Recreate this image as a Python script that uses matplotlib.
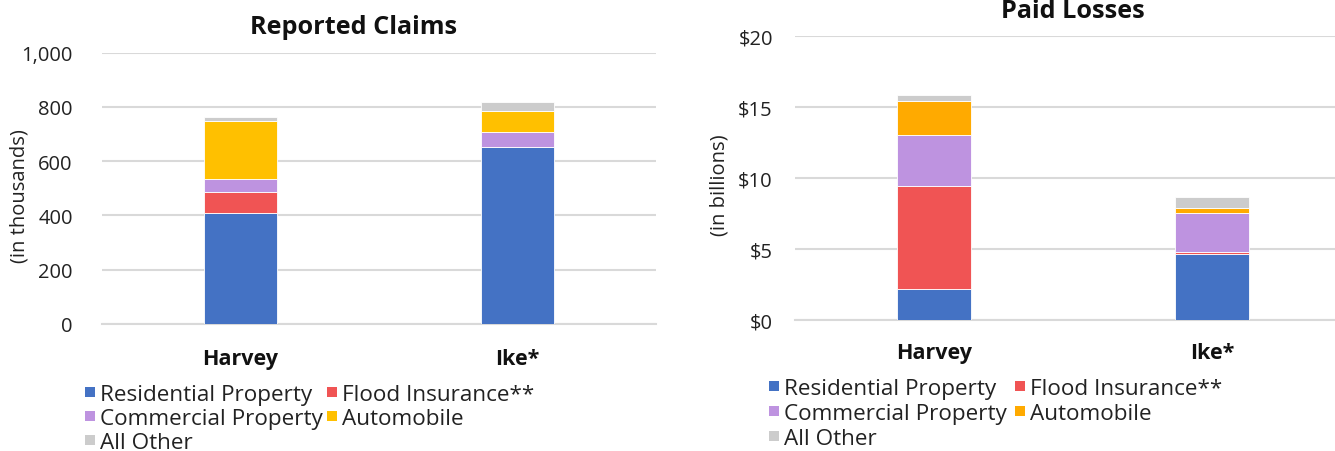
import matplotlib
matplotlib.use("Agg")
import matplotlib.pyplot as plt
from matplotlib.patches import Rectangle

plt.rcParams['font.family'] = ['Open Sans', 'DejaVu Sans']

events = ["Harvey", "Ike*"]
series = ["Residential Property", "Flood Insurance**", "Commercial Property", "Automobile", "All Other"]

claims_residential = [409, 653]
claims_flood = [77, 0]
claims_commercial = [47, 56]
claims_auto = [213, 74]
claims_other = [16, 33]

losses_residential = [2.17, 4.66]
losses_flood = [7.25, 0.12]
losses_commercial = [3.62, 2.75]
losses_auto = [2.36, 0.38]
losses_other = [0.49, 0.75]

left_colors = ["#4472C4", "#F05454", "#BE93E0", "#FFC000", "#CCCCCC"]
right_colors = ["#4472C4", "#F05454", "#BE93E0", "#FFAA00", "#CCCCCC"]

W, H = 1335, 452
fig = plt.figure(figsize=(W / 100, H / 100), dpi=100)

def px(x0, y0, x1, y1):
    return [x0 / W, 1 - y1 / H, (x1 - x0) / W, (y1 - y0) / H]

ax1 = fig.add_axes(px(102, 53.5, 656, 325))
ax2 = fig.add_axes(px(795, 37.3, 1351, 320.7))

def draw(ax, data, colors, ylim, ticks, ticklabels, ypad, xpad):
    bottoms = [0.0] * len(events)
    xs = list(range(len(events)))
    for vals, c in zip(data, colors):
        ax.bar(xs, vals, bottom=bottoms, width=0.267, color=c,
               edgecolor="#ffffff", linewidth=0.6, zorder=3)
        bottoms = [b + v for b, v in zip(bottoms, vals)]
    ax.set_xlim(-0.5, 1.5)
    ax.set_ylim(*ylim)
    ax.set_yticks(ticks)
    ax.set_yticklabels(ticklabels, fontsize=14.5, color="#222222")
    ax.set_xticks(xs)
    ax.set_xticklabels(events, fontsize=15.5, fontweight="bold", color="#111111")
    ax.tick_params(axis="both", length=0)
    ax.tick_params(axis="y", pad=ypad)
    ax.tick_params(axis="x", pad=xpad)
    for s in ["left", "right", "top"]:
        ax.spines[s].set_visible(False)
    ax.spines["bottom"].set_color("#D9D9D9")
    ax.spines["bottom"].set_linewidth(1.5)
    ax.grid(axis="y", color="#D9D9D9", linewidth=1.5, zorder=0)
    ax.set_axisbelow(True)

draw(ax1, [claims_residential, claims_flood, claims_commercial, claims_auto, claims_other],
     left_colors, (0, 1000), [0, 200, 400, 600, 800, 1000],
     ["0", "200", "400", "600", "800", "1,000"], 21, 17.5)
draw(ax2, [losses_residential, losses_flood, losses_commercial, losses_auto, losses_other],
     right_colors, (0, 20), [0, 5, 10, 15, 20],
     ["$0", "$5", "$10", "$15", "$20"], 16, 16)

fig.text(354 / W, 1 - 28 / H, "Reported Claims", ha="center", va="center",
         fontsize=18.2, fontweight="bold", color="#111111")
fig.text(1073 / W, 1 - 12 / H, "Paid Losses", ha="center", va="center",
         fontsize=18.2, fontweight="bold", color="#111111")
fig.text(20 / W, 1 - 196 / H, "(in thousands)", rotation=90, ha="center", va="center",
         fontsize=14.5, color="#222222")
fig.text(719 / W, 1 - 185 / H, "(in billions)", rotation=90, ha="center", va="center",
         fontsize=14.5, color="#222222")

def legend(colors, col_x, rows_y):
    layout = [(0, 0, 0), (2, 0, 1), (4, 0, 2), (1, 1, 0), (3, 1, 1)]
    for idx, col, row in layout:
        sx = col_x[col]
        y = rows_y[row]
        fig.add_artist(Rectangle((sx / W, 1 - (y + 5) / H), 10 / W, 10 / H,
                                 transform=fig.transFigure, facecolor=colors[idx],
                                 edgecolor="none"))
        fig.text((sx + 15) / W, 1 - y / H, series[idx], ha="left", va="center_baseline",
                 fontsize=16.2, color="#222222")

legend(left_colors, [85, 327], [393, 417, 441])
legend(right_colors, [769, 1015], [387, 412, 437])

fig.savefig("out.png", dpi=100)
